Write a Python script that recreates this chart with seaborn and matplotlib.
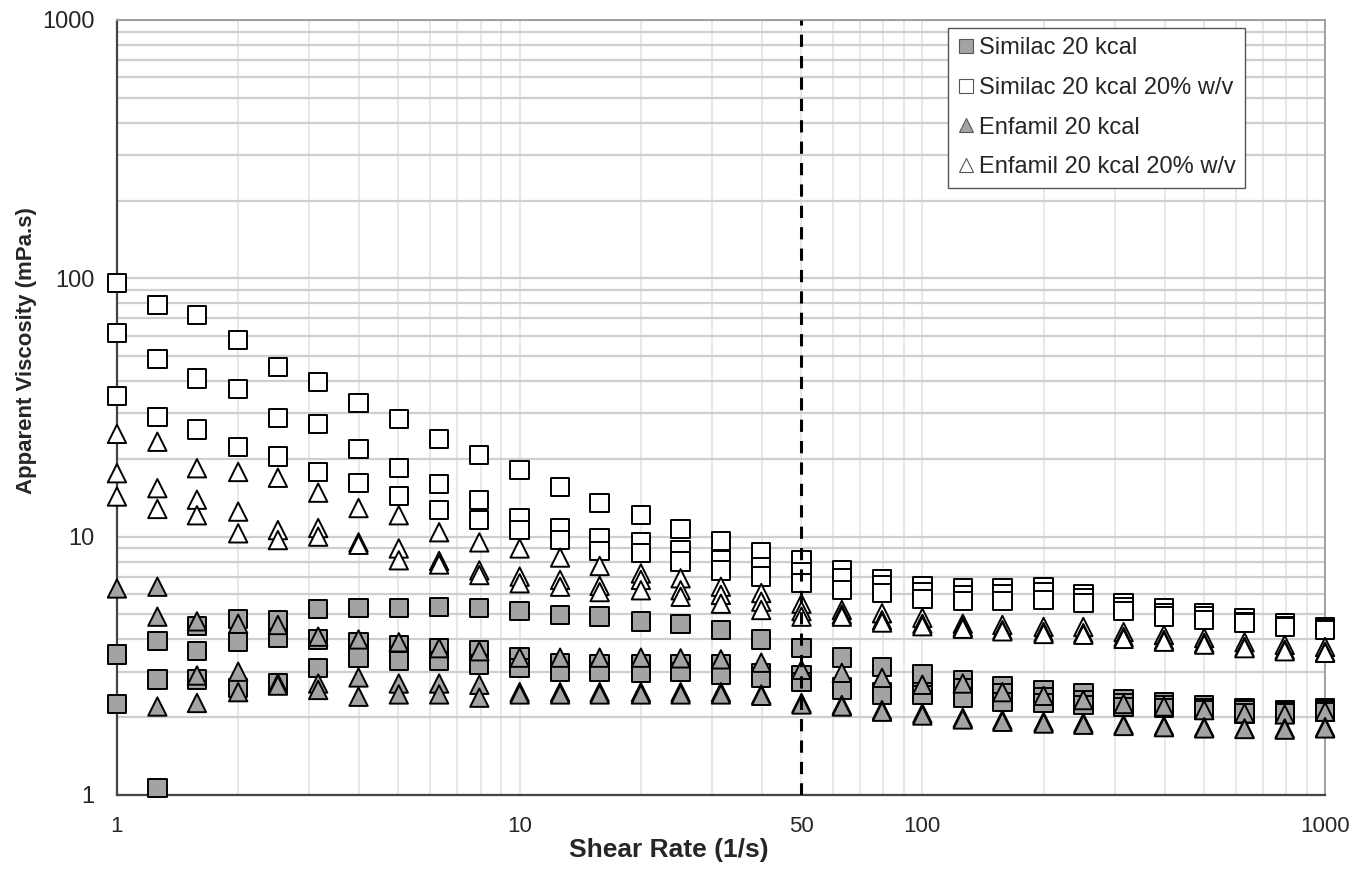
import numpy as np
import pandas as pd
import matplotlib
matplotlib.use("Agg")
import matplotlib.pyplot as plt
from matplotlib.lines import Line2D
from matplotlib.ticker import FixedLocator, NullFormatter, LogLocator
import seaborn as sns

# shear rates (1/s), 10 points per decade
shear_rate = [1.00, 1.26, 1.58, 2.00, 2.51, 3.16, 3.98, 5.01, 6.31, 7.94,
              10.0, 12.6, 15.8, 20.0, 25.1, 31.6, 39.8, 50.1, 63.1, 79.4,
              100, 126, 158, 200, 251, 316, 398, 501, 631, 794, 1000]

# three replicate runs per sample (apparent viscosity, mPa.s)
similac = [
    [3.5, 3.95, 4.5, 4.8, 4.75, 5.25, 5.3, 5.3, 5.35, 5.3, 5.15, 4.98, 4.9, 4.7, 4.6, 4.35,
     4.0, 3.7, 3.4, 3.13, 2.94, 2.79, 2.64, 2.55, 2.48, 2.35, 2.29, 2.23, 2.17, 2.13, 2.17],
    [2.25, 2.8, 3.6, 3.9, 4.05, 4.0, 3.9, 3.8, 3.7, 3.65, 3.4, 3.25, 3.2, 3.2, 3.2, 3.2,
     2.97, 2.92, 2.62, 2.5, 2.5, 2.6, 2.48, 2.4, 2.33, 2.27, 2.23, 2.17, 2.12, 2.1, 2.13],
    [np.nan, 1.065, 2.8, 2.6, 2.7, 3.1, 3.4, 3.3, 3.3, 3.2, 3.1, 3.0, 3.0, 2.97, 3.0, 2.92,
     2.85, 2.74, 2.55, 2.45, 2.44, 2.38, 2.29, 2.27, 2.23, 2.19, 2.17, 2.13, 2.07, 2.07, 2.1],
]
similac_thick = [
    [96, 79, 72, 57.7, 45.4, 39.7, 33, 28.5, 23.9, 20.7, 18.1, 15.6, 13.5, 12.1, 10.7, 9.6,
     8.7, 8.1, 7.4, 6.85, 6.45, 6.3, 6.3, 6.4, 6.0, 5.53, 5.3, 5.05, 4.85, 4.63, 4.47],
    [61.5, 48.7, 41, 37.3, 28.8, 27.3, 21.9, 18.4, 16.0, 13.9, 11.8, 10.8, 9.9, 9.5, 8.9, 8.1,
     7.6, 7.3, 6.9, 6.5, 6.1, 5.95, 6.0, 6.1, 5.8, 5.35, 5.05, 4.9, 4.67, 4.5, 4.43],
    [35, 29, 26, 22.2, 20.4, 17.8, 16.1, 14.4, 12.7, 11.6, 10.6, 9.7, 8.8, 8.65, 8.0, 7.4,
     7.0, 6.6, 6.2, 6.05, 5.75, 5.65, 5.65, 5.7, 5.53, 5.15, 4.9, 4.75, 4.63, 4.47, 4.35],
]
enfamil = [
    [6.3, 6.4, 4.7, 4.6, 4.55, 4.1, 4.0, 3.9, 3.7, 3.6, 3.4, 3.4, 3.4, 3.4, 3.38, 3.35,
     3.25, 3.05, 2.97, 2.84, 2.67, 2.7, 2.5, 2.42, 2.33, 2.25, 2.2, 2.13, 2.07, 2.05, 2.1],
    [np.nan, 4.9, 2.9, 3.0, 2.7, 2.7, 2.85, 2.7, 2.7, 2.67, 2.5, 2.5, 2.5, 2.5, 2.5, 2.5,
     2.45, 2.27, 2.23, 2.13, 2.07, 1.99, 1.95, 1.92, 1.9, 1.87, 1.85, 1.83, 1.81, 1.81, 1.83],
    [np.nan, 2.2, 2.27, 2.5, 2.65, 2.55, 2.4, 2.45, 2.45, 2.38, 2.45, 2.45, 2.45, 2.45, 2.45, 2.45,
     2.42, 2.24, 2.2, 2.1, 2.03, 1.96, 1.92, 1.89, 1.87, 1.85, 1.83, 1.81, 1.8, 1.79, 1.81],
]
enfamil_thick = [
    [25, 23.3, 18.4, 17.8, 16.9, 14.8, 12.9, 12.1, 10.4, 9.5, 9.0, 8.3, 7.7, 7.2, 6.9, 6.4,
     6.05, 5.5, 5.2, 5.05, 4.85, 4.6, 4.55, 4.47, 4.47, 4.27, 4.16, 4.05, 3.9, 3.81, 3.74],
    [17.6, 15.4, 13.9, 12.5, 10.6, 10.8, 9.5, 9.0, 8.05, 7.4, 7.0, 6.8, 6.45, 6.8, 6.2, 5.95,
     5.6, 5.15, 5.0, 4.75, 4.6, 4.47, 4.35, 4.27, 4.23, 4.09, 3.98, 3.88, 3.74, 3.65, 3.58],
    [14.3, 12.8, 12.1, 10.3, 9.7, 10.0, 9.3, 8.1, 7.8, 7.1, 6.6, 6.4, 6.1, 6.2, 5.85, 5.5,
     5.2, 4.9, 4.9, 4.65, 4.5, 4.4, 4.3, 4.2, 4.17, 4.02, 3.92, 3.82, 3.7, 3.6, 3.55],
]

samples = ["Similac 20 kcal", "Similac 20 kcal 20% w/v",
           "Enfamil 20 kcal", "Enfamil 20 kcal 20% w/v"]
sample_data = [similac, similac_thick, enfamil, enfamil_thick]

rows = []
for name, reps in zip(samples, sample_data):
    for rep in reps:
        for x, y in zip(shear_rate, rep):
            rows.append({"shear": x, "visc": y, "sample": name})
df = pd.DataFrame(rows).dropna()

GRAY = "#a3a3a3"
palette = {samples[0]: GRAY, samples[1]: "white", samples[2]: GRAY, samples[3]: "white"}
markers = {samples[0]: "s", samples[1]: "s", samples[2]: "^", samples[3]: "^"}

sns.set_style("white")
plt.rcParams["font.family"] = ["Liberation Sans", "DejaVu Sans"]

fig = plt.figure(figsize=(13.71, 8.69), dpi=100)
ax = fig.add_axes([0.0853, 0.0852, 0.8812, 0.8918])

sns.scatterplot(data=df, x="shear", y="visc", hue="sample", style="sample",
                palette=palette, markers=markers, hue_order=samples, style_order=samples,
                s=175, edgecolor="black", linewidth=1.4, legend=False, ax=ax,
                zorder=3, clip_on=False)

ax.set_xscale("log")
ax.set_yscale("log")
ax.set_xlim(1, 1000)
ax.set_ylim(1, 1000)

# ticks and grid
ax.yaxis.set_major_locator(FixedLocator([1, 10, 100, 1000]))
ax.yaxis.set_minor_locator(LogLocator(base=10, subs=np.arange(2, 10)))
ax.yaxis.set_minor_formatter(NullFormatter())
ax.set_yticklabels(["1", "10", "100", "1000"])
ax.xaxis.set_major_locator(FixedLocator([1, 10, 50, 100, 1000]))
ax.xaxis.set_minor_locator(LogLocator(base=10, subs=np.arange(2, 10)))
ax.xaxis.set_minor_formatter(NullFormatter())
ax.set_xticklabels(["1", "10", "50", "100", "1000"])

ax.grid(True, which="both", axis="y", color="#cfcfcf", linewidth=1.6, zorder=0)
ax.grid(True, which="both", axis="x", color="#e4e4e4", linewidth=1.2, zorder=0)
ax.set_axisbelow(True)

ax.tick_params(axis="both", which="major", direction="out", length=6, width=1.2,
               color="#333333", labelsize=16)
ax.tick_params(axis="y", which="major", pad=10, labelsize=17)
ax.tick_params(axis="x", which="major", pad=9)
ax.tick_params(axis="both", which="minor", length=0)

for side in ["left", "bottom"]:
    ax.spines[side].set_color("#444444")
    ax.spines[side].set_linewidth(1.6)
for side in ["top", "right"]:
    ax.spines[side].set_color("#a0a0a0")
    ax.spines[side].set_linewidth(1.4)

ax.axvline(50, color="black", linestyle=(0, (4, 3)), linewidth=2.2, zorder=4)

ax.set_xlabel("Shear Rate (1/s)", fontsize=19, fontweight="bold")
ax.set_ylabel("Apparent Viscosity (mPa.s)", fontsize=16, fontweight="bold")
ax.xaxis.set_label_coords(0.457, -0.056)
ax.yaxis.set_label_coords(-0.066, 0.574)

handles = [
    Line2D([], [], linestyle="none", marker=markers[n], markersize=10.5,
           markerfacecolor=palette[n], markeredgecolor="#555555", markeredgewidth=0.8)
    for n in samples
]
leg = ax.legend(handles, samples, loc="upper right", bbox_to_anchor=(0.934, 0.99),
                borderaxespad=0, fontsize=17, frameon=True, fancybox=False,
                handlelength=0.7, handletextpad=0.2, labelspacing=0.75,
                borderpad=0.4, framealpha=1)
leg.get_frame().set_edgecolor("#555555")
leg.get_frame().set_linewidth(1.0)

fig.savefig("out.png", dpi=100)
